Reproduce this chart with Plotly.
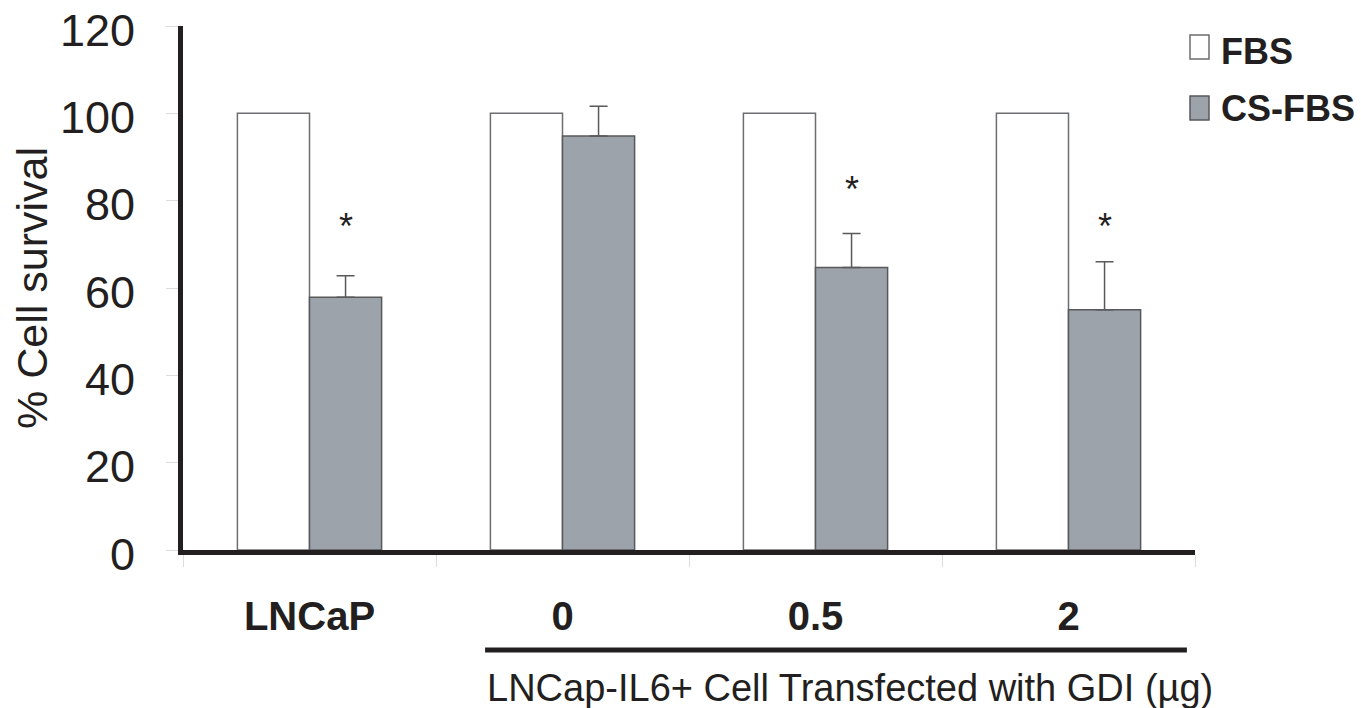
import plotly.graph_objects as go

categories = ["LNCaP", "0", "0.5", "2"]
fbs = [100, 100, 100, 100]
cs_fbs = [57.9, 94.8, 64.7, 55.0]
cs_err = [4.9, 6.8, 7.8, 11.0]
star_cats = ["LNCaP", "0.5", "2"]
star_y = [74.0, 82.5, 74.0]
y_ticks = [0, 20, 40, 60, 80, 100, 120]

FONT = "Liberation Sans, Arial, Helvetica, sans-serif"
AX = "#231f20"

fig = go.Figure()
fig.add_trace(go.Bar(
    x=categories, y=fbs, name="FBS",
    marker=dict(color="white", line=dict(color="#6d6e71", width=1.5)),
))
fig.add_trace(go.Bar(
    x=categories, y=cs_fbs, name="CS-FBS",
    marker=dict(color="#9da3aa", line=dict(color="#58595b", width=1.5)),
    error_y=dict(type="data", array=cs_err, arrayminus=[0] * len(cs_err),
                 symmetric=False, color="#58595b", thickness=1.5, width=9),
))

# significance stars over CS-FBS bars
for c, yv in zip(star_cats, star_y):
    fig.add_annotation(x=categories.index(c), y=yv, xref="x", yref="y", text="*",
                       showarrow=False, xshift=36,
                       font=dict(family=FONT, size=36, color=AX), yanchor="middle")

# bracket line under the GDI groups and its title
fig.add_shape(type="line", xref="x", yref="paper", x0=0.694, x1=3.468,
              y0=-0.191, y1=-0.191, line=dict(color=AX, width=5))
fig.add_annotation(x=2.136, y=-0.263, xref="x", yref="paper",
                   text="LNCap-IL6+ Cell Transfected with GDI (µg)",
                   showarrow=False, yanchor="middle",
                   font=dict(family=FONT, size=38, color=AX))

# legend drawn manually (plot area spans 183..1195 px horizontally, 26..550 px vertically)
def px_x(p):
    return (p - 183) / 1012.0

def px_y(p):
    return (550 - p) / 524.0

fig.add_shape(type="rect", xref="paper", yref="paper",
              x0=px_x(1190), x1=px_x(1209), y0=px_y(59), y1=px_y(35),
              fillcolor="white", line=dict(color="#6d6e71", width=1.5))
fig.add_shape(type="rect", xref="paper", yref="paper",
              x0=px_x(1190), x1=px_x(1209), y0=px_y(120), y1=px_y(96),
              fillcolor="#9da3aa", line=dict(color="#58595b", width=1.5))
fig.add_annotation(x=px_x(1219), y=px_y(51), xref="paper", yref="paper",
                   text="<b>FBS</b>", showarrow=False, xanchor="left", yanchor="middle",
                   font=dict(family=FONT, size=36, color=AX))
fig.add_annotation(x=px_x(1219), y=px_y(109), xref="paper", yref="paper",
                   text="<b>CS-FBS</b>", showarrow=False, xanchor="left", yanchor="middle",
                   font=dict(family=FONT, size=36, color=AX))

fig.update_layout(
    width=1361, height=708,
    margin=dict(l=183, r=166, t=26, b=158, autoexpand=False),
    paper_bgcolor="white", plot_bgcolor="white",
    barmode="group", bargap=0.43, bargroupgap=0,
    showlegend=False,
    xaxis=dict(
        type="category", range=[-0.5, 3.5], automargin=False,
        showline=True, linecolor=AX, linewidth=5,
        ticks="outside", tickson="boundaries", ticklen=12, tickcolor="#dcdcdc", tickwidth=1,
        tickfont=dict(family=FONT, size=40, color=AX),
        tickvals=categories, ticktext=["<b>%s</b>" % c for c in categories],
        ticklabelstandoff=27, ticklabeloverflow="allow",
        showgrid=False, zeroline=False,
    ),
    yaxis=dict(
        range=[0, 120], tickvals=y_ticks, automargin=False,
        showline=True, linecolor=AX, linewidth=5,
        ticks="outside", ticklen=12, tickcolor="#dcdcdc", tickwidth=1,
        tickfont=dict(family=FONT, size=45, color=AX),
        ticklabelstandoff=22, ticklabelshift=4, ticklabeloverflow="allow",
        showgrid=False, zeroline=False,
        title=dict(text="% Cell survival", font=dict(family=FONT, size=43, color=AX), standoff=0),
    ),
)

# remove the page's default body margin so the figure fills the window exactly
fig.write_html("out.html", config={"displayModeBar": False},
               post_script="document.body.style.margin='0px';")
